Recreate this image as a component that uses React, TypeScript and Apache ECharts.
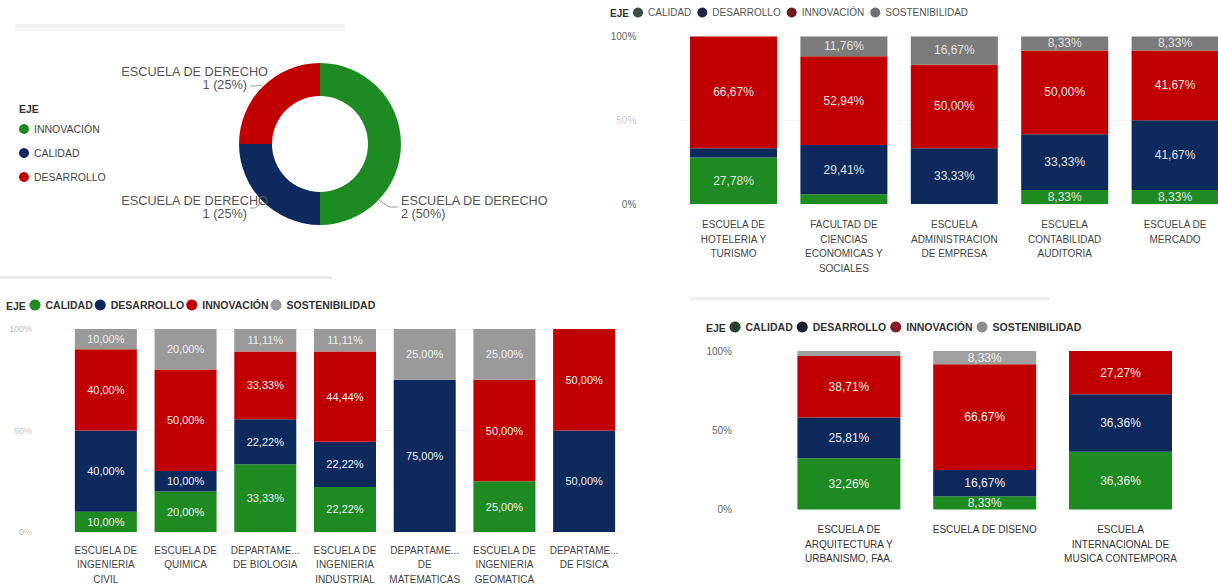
import React, { useEffect, useRef } from 'react';
import * as echarts from 'echarts';

const FONT = '"Liberation Sans", Arial, sans-serif';

// ---------- Donut (top-left) ----------
const donutEjes = ['INNOVACIÓN', 'CALIDAD', 'DESARROLLO'];
const donutCounts = [2, 1, 1];
const donutSchools = ['ESCUELA DE DERECHO', 'ESCUELA DE DERECHO', 'ESCUELA DE DERECHO'];
const donutColors = ['#1e8b22', '#0e2a5d', '#c00000'];

// ---------- shared ----------
const ejes = ['CALIDAD', 'DESARROLLO', 'INNOVACIÓN', 'SOSTENIBILIDAD'];
const yTicks = [0, 50, 100];

// ---------- Top-right ----------
const trCategories = [
  'ESCUELA DE\nHOTELERIA Y\nTURISMO',
  'FACULTAD DE\nCIENCIAS\nECONOMICAS Y\nSOCIALES',
  'ESCUELA\nADMINISTRACION\nDE EMPRESA',
  'ESCUELA\nCONTABILIDAD\nAUDITORIA',
  'ESCUELA DE\nMERCADO',
];
const trCalidad = [27.78, 5.88, 0, 8.33, 8.33];
const trDesarrollo = [5.55, 29.41, 33.33, 33.33, 41.67];
const trInnovacion = [66.67, 52.94, 50.0, 50.0, 41.67];
const trSostenibilidad = [0, 11.76, 16.67, 8.33, 8.33];

// ---------- Bottom-left ----------
const blCategories = [
  'ESCUELA DE\nINGENIERIA\nCIVIL',
  'ESCUELA DE\nQUIMICA',
  'DEPARTAME...\nDE BIOLOGIA',
  'ESCUELA DE\nINGENIERIA\nINDUSTRIAL',
  'DEPARTAME...\nDE\nMATEMATICAS',
  'ESCUELA DE\nINGENIERIA\nGEOMATICA',
  'DEPARTAME...\nDE FISICA',
];
const blCalidad = [10.0, 20.0, 33.33, 22.22, 0, 25.0, 0];
const blDesarrollo = [40.0, 10.0, 22.22, 22.22, 75.0, 0, 50.0];
const blInnovacion = [40.0, 50.0, 33.33, 44.44, 0, 50.0, 50.0];
const blSostenibilidad = [10.0, 20.0, 11.11, 11.11, 25.0, 25.0, 0];

// ---------- Bottom-right ----------
const brCategories = [
  'ESCUELA DE\nARQUITECTURA Y\nURBANISMO, FAA.',
  'ESCUELA DE DISENO',
  'ESCUELA\nINTERNACIONAL DE\nMUSICA CONTEMPORA',
];
const brCalidad = [32.26, 8.33, 36.36];
const brDesarrollo = [25.81, 16.67, 36.36];
const brInnovacion = [38.71, 66.67, 27.27];
const brSostenibilidad = [3.22, 8.33, 0];

const fmtPct = (v: number) => v.toFixed(2).replace('.', ',') + '%';

function makeBarOption(c: any) {
  const seriesData = [c.calidad, c.desarrollo, c.innovacion, c.sostenibilidad];
  return {
    animation: false,
    textStyle: { fontFamily: FONT },
    title: {
      text: 'EJE',
      left: c.ejeX,
      top: c.ejeY,
      padding: 0,
      textStyle: { fontSize: c.ejeFont, fontWeight: 'bold', color: '#333', fontFamily: FONT },
    },
    legend: {
      left: c.legendLeft,
      top: c.legendTop,
      icon: 'circle',
      itemWidth: c.mk,
      itemHeight: c.mk,
      itemGap: c.legendGap,
      padding: 0,
      selectedMode: false,
      textStyle: { fontSize: c.legendFont, fontWeight: c.legendWeight, color: c.legendColor, fontFamily: FONT },
      data: ejes.map((n, i) => ({ name: n, itemStyle: { color: c.legendColors[i] } })),
    },
    grid: { left: c.grid[0], top: c.grid[1], width: c.grid[2], height: c.grid[3], containLabel: false },
    xAxis: {
      type: 'category',
      data: c.categories,
      axisLine: { show: false },
      axisTick: { show: false },
      axisLabel: {
        interval: 0,
        fontSize: 10,
        color: c.xColor,
        lineHeight: c.xLineHeight,
        margin: c.xMargin,
        fontFamily: FONT,
      },
    },
    yAxis: {
      type: 'value',
      min: yTicks[0],
      max: yTicks[2],
      interval: yTicks[1],
      axisLine: { show: false },
      axisTick: { show: false },
      axisLabel: {
        formatter: '{value}%',
        margin: c.yMargin,
        fontSize: c.yFont,
        fontFamily: FONT,
        color: (v: any) => (Number(v) === 50 ? c.yMidColor : c.yColor),
      },
      splitLine: { show: true, lineStyle: { color: c.splitColor, width: 1 } },
    },
    series: ejes.map((n, i) => ({
      name: n,
      type: 'bar',
      stack: 'total',
      barWidth: c.barWidth,
      data: seriesData[i],
      itemStyle: { color: c.colors[i] },
      label: {
        show: true,
        position: 'inside',
        color: c.labelColor,
        fontSize: c.labelFont,
        fontFamily: FONT,
        formatter: (p: any) => (p.value >= c.threshold ? fmtPct(p.value) : ''),
      },
    })),
  };
}

const donutLayout = [
  { x: 401, y: 194.5, align: 'left', line: [[379, 200], [389, 207], [398, 207]] },
  { x: 268, y: 194.5, align: 'right', line: [[262, 202], [255, 208], [250, 208]] },
  { x: 268, y: 65.5, align: 'right', line: [[262, 85], [256, 86], [250, 86]] },
];

const donutOption = {
  animation: false,
  textStyle: { fontFamily: FONT },
  title: {
    text: 'EJE',
    left: 19,
    top: 103,
    padding: 0,
    textStyle: { fontSize: 10.5, fontWeight: 'bold', color: '#333', fontFamily: FONT },
  },
  legend: {
    orient: 'vertical',
    left: 19,
    top: 123,
    icon: 'circle',
    itemWidth: 10,
    itemHeight: 10,
    itemGap: 12,
    padding: 0,
    selectedMode: false,
    textStyle: { fontSize: 10.5, lineHeight: 12, color: '#444', fontFamily: FONT },
    data: donutEjes,
  },
  graphic: [
    { type: 'rect', shape: { x: 15, y: 24, width: 330, height: 7, r: 3 }, style: { fill: '#f3f3f3' }, silent: true },
    { type: 'rect', shape: { x: 0, y: 276, width: 332, height: 3 }, style: { fill: '#ececec' }, silent: true },
    { type: 'rect', shape: { x: 690, y: 297, width: 360, height: 3 }, style: { fill: '#eeeeee' }, silent: true },
  ],
  series: [
    {
      type: 'pie',
      center: [320, 144],
      radius: [48, 81],
      startAngle: 90,
      clockwise: true,
      avoidLabelOverlap: false,
      data: donutEjes.map((n, i) => ({ name: n, value: donutCounts[i], itemStyle: { color: donutColors[i] } })),
      label: {
        show: true,
        position: 'outside',
        fontFamily: FONT,
        formatter: (p: any) => {
          const key = p.dataIndex === 0 ? 'w' : 'v';
          return `{n|${donutSchools[p.dataIndex]}}\n{${key}|${p.value} (${Math.round(p.percent)}%)}`;
        },
        rich: {
          n: { fontSize: 12.7, color: '#555', lineHeight: 13, fontFamily: FONT },
          v: { fontSize: 12.7, color: '#555', lineHeight: 13, fontFamily: FONT, padding: [0, 21, 0, 0] },
          w: { fontSize: 12.7, color: '#555', lineHeight: 13, fontFamily: FONT },
        },
      },
      labelLine: { show: true, length: 8, length2: 8, lineStyle: { color: '#9a9a9a', width: 1 } },
      labelLayout: (params: any) => {
        const d = donutLayout[params.dataIndex];
        return { x: d.x, y: d.y, align: d.align, verticalAlign: 'top', labelLinePoints: d.line };
      },
    },
  ],
};

const trOption = makeBarOption({
  categories: trCategories,
  calidad: trCalidad,
  desarrollo: trDesarrollo,
  innovacion: trInnovacion,
  sostenibilidad: trSostenibilidad,
  ejeX: 10, ejeY: 8.5, ejeFont: 10,
  legendLeft: 33, legendTop: 7.5, mk: 10, legendGap: 6,
  legendFont: 10, legendWeight: 'normal', legendColor: '#555',
  legendColors: ['#3e4a42', '#1c2542', '#6e1a20', '#707070'],
  grid: [78.3, 36.5, 552, 167.5],
  barWidth: 87,
  yMargin: 42, yFont: 10, yColor: '#666', yMidColor: '#cfcfcf',
  xColor: '#444', xLineHeight: 14.7, xMargin: 13,
  colors: ['#1e8b22', '#0e2a5d', '#c00000', '#7b7b7b'],
  labelColor: '#e2e2e2', labelFont: 12, threshold: 7,
  splitColor: '#f6f6f6',
});

const blOption = makeBarOption({
  categories: blCategories,
  calidad: blCalidad,
  desarrollo: blDesarrollo,
  innovacion: blInnovacion,
  sostenibilidad: blSostenibilidad,
  ejeX: 6, ejeY: 10, ejeFont: 10.5,
  legendLeft: 29.5, legendTop: 9.5, mk: 11, legendGap: 2,
  legendFont: 10.5, legendWeight: 'bold', legendColor: '#333',
  legendColors: ['#1e8b22', '#0e2a5d', '#c00000', '#9a9a9a'],
  grid: [66, 39, 558, 203],
  barWidth: 62,
  yMargin: 34, yFont: 9, yColor: '#bbbbbb', yMidColor: '#c4c4c4',
  xColor: '#444', xLineHeight: 14.5, xMargin: 11,
  colors: ['#1e8b22', '#0e2a5d', '#c00000', '#9a9a9a'],
  labelColor: '#eeeeee', labelFont: 11, threshold: 5,
  splitColor: '#f2f2f2',
});

const brOption = makeBarOption({
  categories: brCategories,
  calidad: brCalidad,
  desarrollo: brDesarrollo,
  innovacion: brInnovacion,
  sostenibilidad: brSostenibilidad,
  ejeX: 16, ejeY: 22, ejeFont: 10.5,
  legendLeft: 39.5, legendTop: 21.5, mk: 11, legendGap: 4,
  legendFont: 10.5, legendWeight: 'bold', legendColor: '#333',
  legendColors: ['#25442d', '#1b2030', '#8a1a2a', '#8c8c8c'],
  grid: [91, 51, 407.4, 158.5],
  barWidth: 103,
  yMargin: 49, yFont: 10, yColor: '#666', yMidColor: '#666',
  xColor: '#333', xLineHeight: 14.5, xMargin: 13,
  colors: ['#1e8b22', '#0e2a5d', '#c00000', '#a0a0a0'],
  labelColor: '#f0f0f0', labelFont: 12, threshold: 5,
  splitColor: '#ffffff',
});

function Chart({ option, style }: { option: any; style: React.CSSProperties }) {
  const ref = useRef<HTMLDivElement>(null);
  useEffect(() => {
    const chart = echarts.init(ref.current as HTMLDivElement, null, { renderer: 'svg' });
    chart.setOption(option);
    return () => chart.dispose();
  }, [option]);
  return <div ref={ref} style={{ position: 'absolute', ...style }} />;
}

export default function App() {
  return (
    <div
      style={{
        position: 'fixed',
        left: 0,
        top: 0,
        width: 1218,
        height: 588,
        overflow: 'hidden',
        background: '#ffffff',
      }}
    >
      <Chart option={donutOption} style={{ left: 0, top: 0, width: 1218, height: 588 }} />
      <Chart option={trOption} style={{ left: 600, top: 0, width: 640, height: 295 }} />
      <Chart option={blOption} style={{ left: 0, top: 290, width: 640, height: 298 }} />
      <Chart option={brOption} style={{ left: 690, top: 300, width: 528, height: 288 }} />
    </div>
  );
}
